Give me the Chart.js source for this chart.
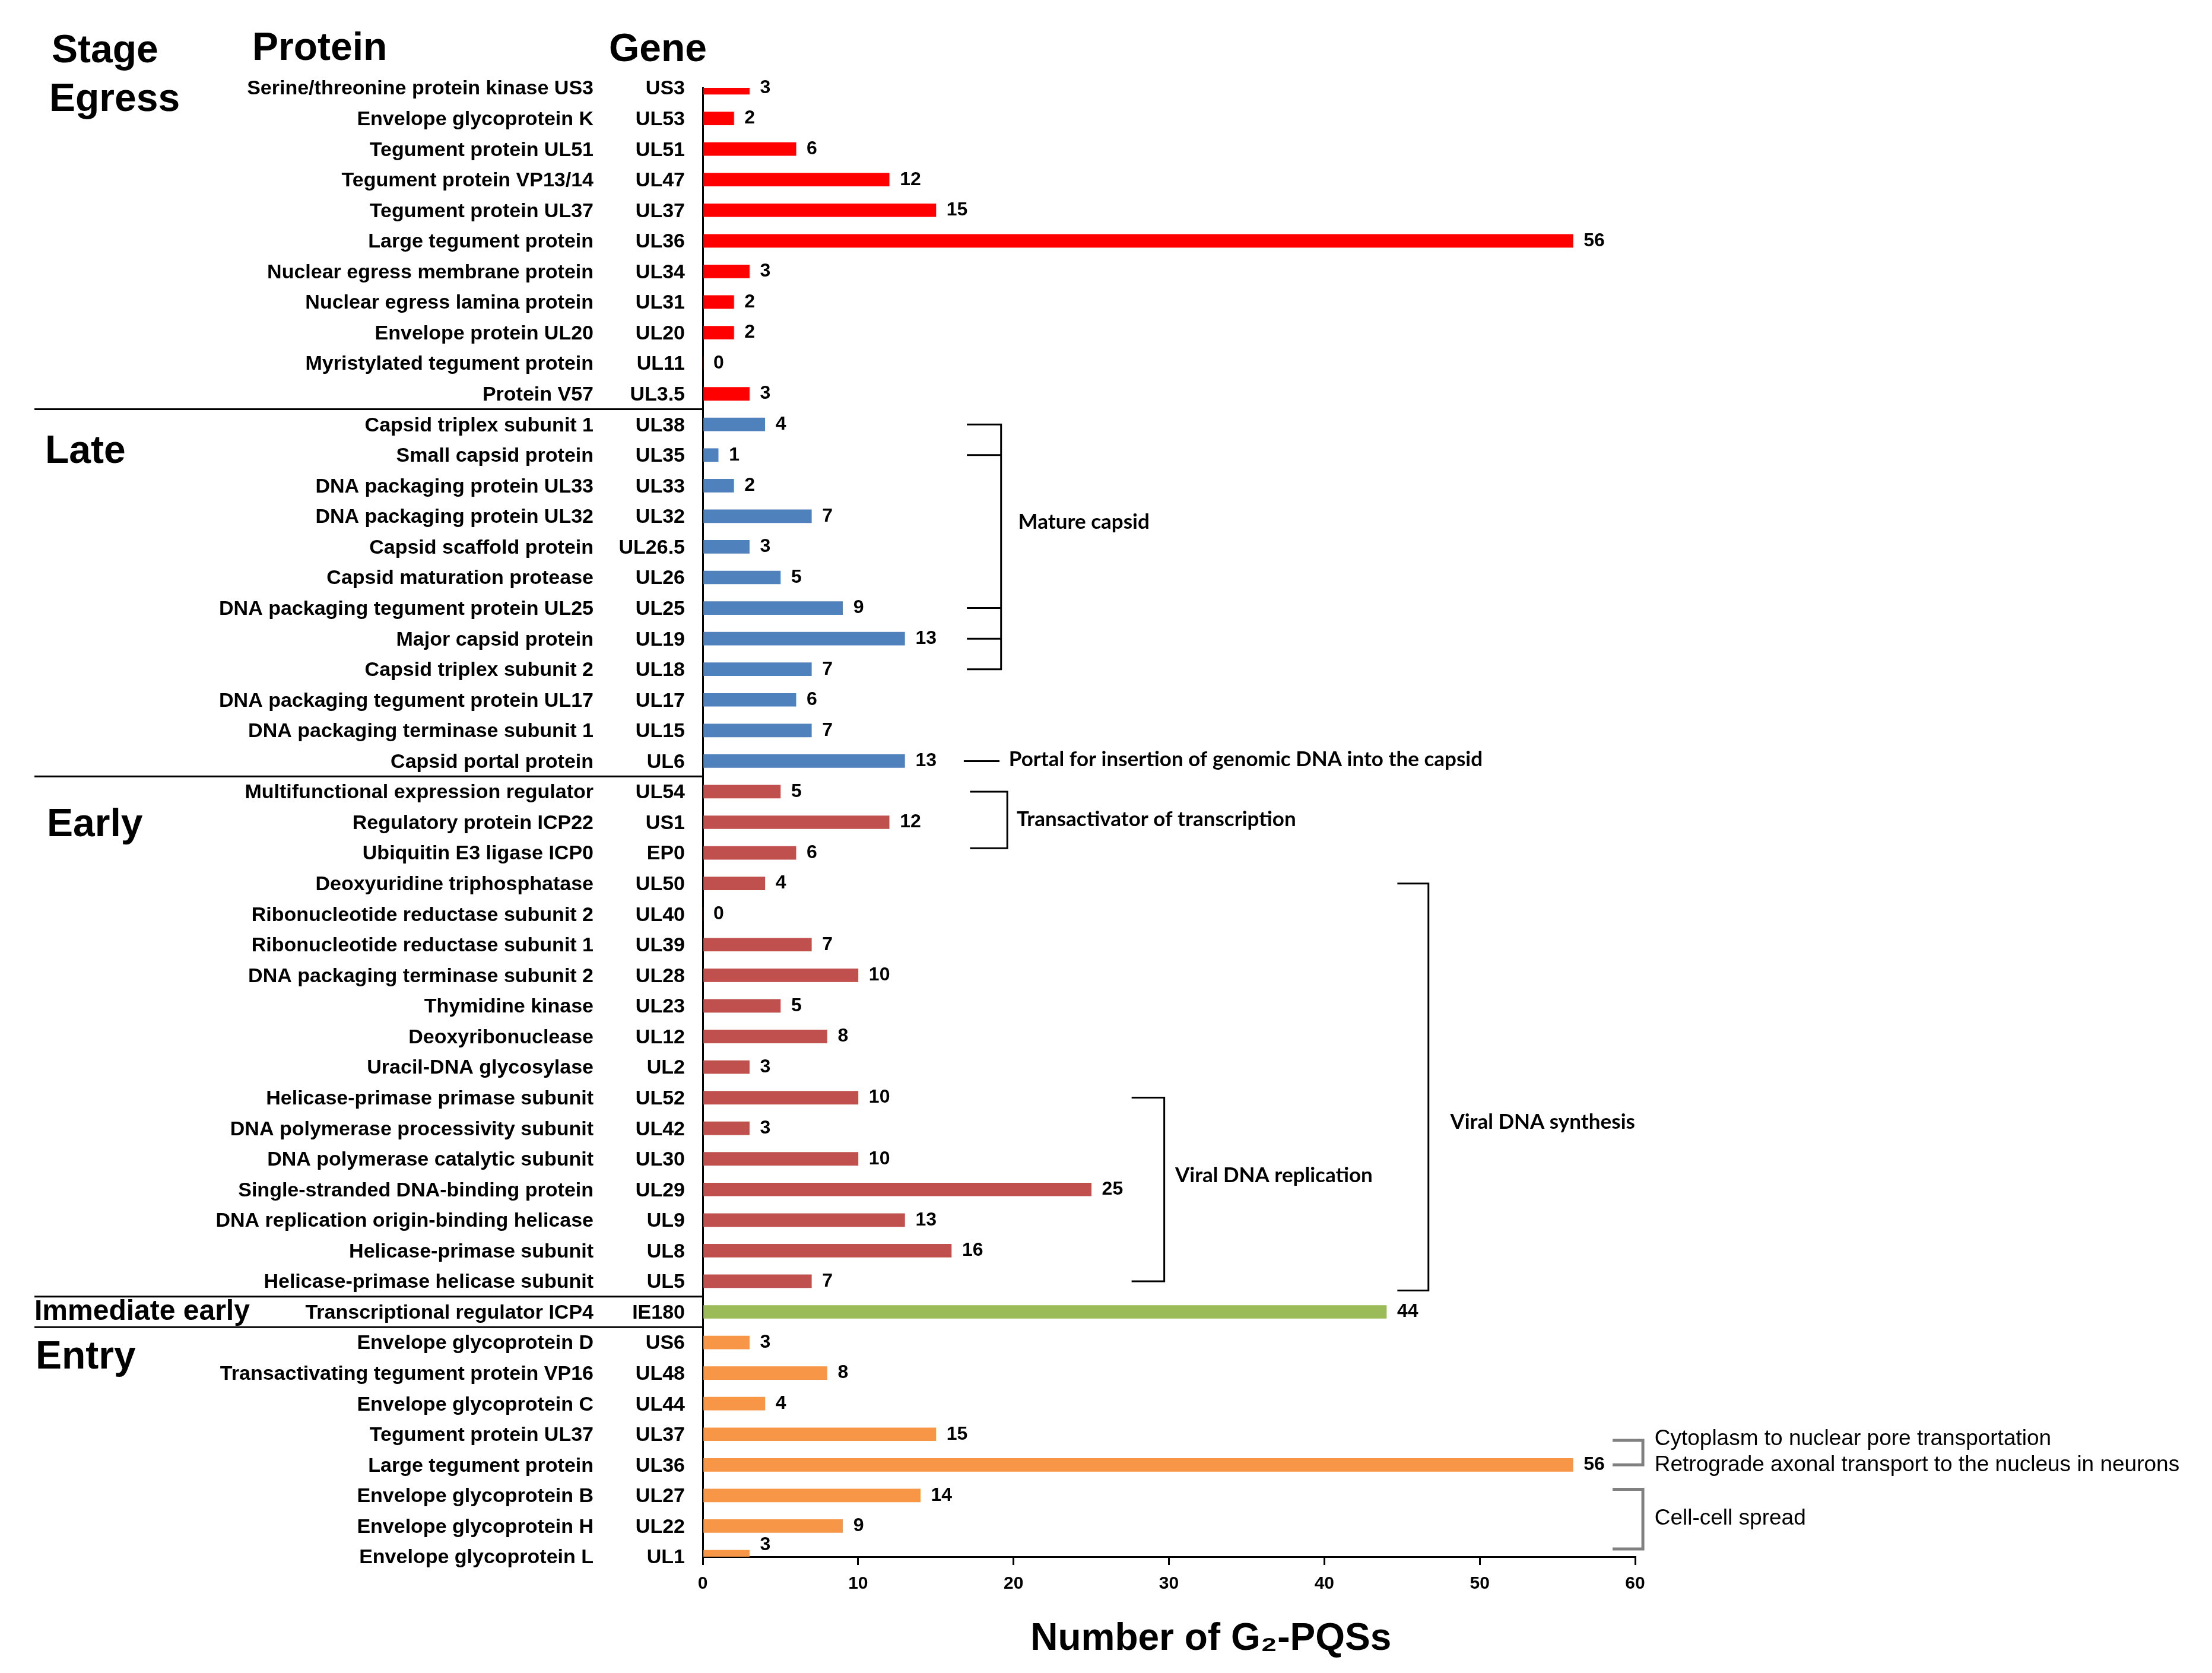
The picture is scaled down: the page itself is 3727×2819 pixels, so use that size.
<!DOCTYPE html>
<html>
<head>
<meta charset="utf-8">
<script src="https://cdn.jsdelivr.net/npm/chart.js@4.4.0/dist/chart.umd.min.js"></script>
<style>
  html, body { margin: 0; padding: 0; background: #fff; }
  canvas { display: block; }
</style>
</head>
<body>
<canvas id="myChart" width="3727" height="2819"></canvas>
<script>
// stages, top to bottom
var stageNames = ["Egress", "Late", "Early", "Immediate early", "Entry"];
var stageSizes = [11, 12, 17, 1, 8];
var stageColors = ["#FF0000", "#4F81BD", "#C0504D", "#9BBB59", "#F79646"];

var proteins = [
    "Serine/threonine protein kinase US3", "Envelope glycoprotein K", "Tegument protein UL51",
    "Tegument protein VP13/14", "Tegument protein UL37", "Large tegument protein",
    "Nuclear egress membrane protein", "Nuclear egress lamina protein", "Envelope protein UL20",
    "Myristylated tegument protein", "Protein V57",
    "Capsid triplex subunit 1", "Small capsid protein", "DNA packaging protein UL33",
    "DNA packaging protein UL32", "Capsid scaffold protein", "Capsid maturation protease",
    "DNA packaging tegument protein UL25", "Major capsid protein", "Capsid triplex subunit 2",
    "DNA packaging tegument protein UL17", "DNA packaging terminase subunit 1", "Capsid portal protein",
    "Multifunctional expression regulator", "Regulatory protein ICP22", "Ubiquitin E3 ligase ICP0",
    "Deoxyuridine triphosphatase", "Ribonucleotide reductase subunit 2", "Ribonucleotide reductase subunit 1",
    "DNA packaging terminase subunit 2", "Thymidine kinase", "Deoxyribonuclease",
    "Uracil-DNA glycosylase", "Helicase-primase primase subunit", "DNA polymerase processivity subunit",
    "DNA polymerase catalytic subunit", "Single-stranded DNA-binding protein",
    "DNA replication origin-binding helicase", "Helicase-primase subunit", "Helicase-primase helicase subunit",
    "Transcriptional regulator ICP4",
    "Envelope glycoprotein D", "Transactivating tegument protein VP16", "Envelope glycoprotein C",
    "Tegument protein UL37", "Large tegument protein", "Envelope glycoprotein B",
    "Envelope glycoprotein H", "Envelope glycoprotein L"
];
var genes = [
    "US3", "UL53", "UL51", "UL47", "UL37", "UL36", "UL34", "UL31", "UL20", "UL11", "UL3.5",
    "UL38", "UL35", "UL33", "UL32", "UL26.5", "UL26", "UL25", "UL19", "UL18", "UL17", "UL15", "UL6",
    "UL54", "US1", "EP0", "UL50", "UL40", "UL39", "UL28", "UL23", "UL12", "UL2", "UL52", "UL42",
    "UL30", "UL29", "UL9", "UL8", "UL5",
    "IE180",
    "US6", "UL48", "UL44", "UL37", "UL36", "UL27", "UL22", "UL1"
];
var counts = [
    3, 2, 6, 12, 15, 56, 3, 2, 2, 0, 3,
    4, 1, 2, 7, 3, 5, 9, 13, 7, 6, 7, 13,
    5, 12, 6, 4, 0, 7, 10, 5, 8, 3, 10, 3, 10, 25, 13, 16, 7,
    44,
    3, 8, 4, 15, 56, 14, 9, 3
];
var xTicks = [0, 10, 20, 30, 40, 50, 60];

// bar colours follow the stage each row belongs to
var barColors = [];
var stageStart = [];
stageSizes.forEach(function (n, s) {
    stageStart.push(barColors.length);
    for (var i = 0; i < n; i++) barColors.push(stageColors[s]);
});

// notes on the right, in axis units (x) and row numbers (y)
var notes = [
    { x1: 17.0, x2: 19.2, top: 11, bottom: 19, marks: [12, 17, 18], tx: 20.3, lines: [["Mature capsid", 14.2]], gray: false },
    { x1: 16.8, x2: 19.1, top: 22, bottom: 22, marks: [], tx: 19.7, lines: [["Portal for insertion of genomic DNA into the capsid", 21.95]], gray: false, flat: true },
    { x1: 17.2, x2: 19.6, top: 23.0, bottom: 24.85, marks: [], tx: 20.2, lines: [["Transactivator of transcription", 23.9]], gray: false },
    { x1: 27.6, x2: 29.7, top: 33, bottom: 39, marks: [], tx: 30.4, lines: [["Viral DNA replication", 35.55]], gray: false },
    { x1: 44.7, x2: 46.7, top: 26, bottom: 39.3, marks: [], tx: 48.1, lines: [["Viral DNA synthesis", 33.8]], gray: false },
    { x1: 58.55, x2: 60.5, top: 44.2, bottom: 45.0, marks: [], tx: 61.25, lines: [["Cytoplasm to nuclear pore transportation", 44.15], ["Retrograde axonal transport to the nucleus in neurons", 45.0]], gray: true },
    { x1: 58.55, x2: 60.5, top: 45.8, bottom: 47.75, marks: [], tx: 61.25, lines: [["Cell-cell spread", 46.75]], gray: true }
];

var boldArial = '"Liberation Sans", Arial, sans-serif';

var sidePlugin = {
    id: 'sideText',
    afterDatasetsDraw: function (chart) {
        var ctx = chart.ctx;
        var meta = chart.getDatasetMeta(0);
        ctx.save();
        ctx.fillStyle = '#000';
        ctx.font = 'bold 32px ' + boldArial;
        ctx.textAlign = 'left';
        ctx.textBaseline = 'middle';
        meta.data.forEach(function (bar, i) {
            var dy = (i === counts.length - 1) ? -20 : 0;
            ctx.fillText(String(counts[i]), bar.x + 18, bar.y + dy);
        });
        ctx.restore();
    },
    afterDraw: function (chart) {
        var ctx = chart.ctx;
        var xs = chart.scales.x, ys = chart.scales.y;
        ctx.save();
        ctx.fillStyle = '#000';
        ctx.textBaseline = 'middle';

        // column headers
        ctx.font = 'bold 66px ' + boldArial;
        ctx.textAlign = 'left';
        ctx.fillText('Stage', 87, 87);
        ctx.fillText('Protein', 425, 83);
        ctx.fillText('Gene', 1026, 85);

        // stage names
        var stageRows = [0.4, 11.9, 24.1, 40, 41.5];
        var stageLeft = [83, 76, 79, 58, 60];
        stageNames.forEach(function (name, s) {
            ctx.font = (s === 3 ? 'bold 48px ' : 'bold 66px ') + boldArial;
            ctx.fillText(name, stageLeft[s], ys.getPixelForValue(stageRows[s]));
        });

        // protein and gene columns
        ctx.font = 'bold 34px ' + boldArial;
        ctx.textAlign = 'right';
        proteins.forEach(function (p, i) {
            var y = ys.getPixelForValue(i) + 2;
            ctx.fillText(p, 1000, y);
            ctx.fillText(genes[i], 1154, y);
        });

        // lines between stages
        ctx.strokeStyle = '#000';
        ctx.lineWidth = 3;
        for (var s = 1; s < stageStart.length; s++) {
            var k = stageStart[s];
            var yy = (ys.getPixelForValue(k - 1) + ys.getPixelForValue(k)) / 2;
            ctx.beginPath();
            ctx.moveTo(58, yy);
            ctx.lineTo(xs.left, yy);
            ctx.stroke();
        }

        // brackets and notes
        notes.forEach(function (n) {
            var x1 = xs.getPixelForValue(n.x1), x2 = xs.getPixelForValue(n.x2);
            var yt = ys.getPixelForValue(n.top), yb = ys.getPixelForValue(n.bottom);
            ctx.strokeStyle = n.gray ? '#808080' : '#000';
            ctx.lineWidth = n.gray ? 5 : 3;
            ctx.beginPath();
            if (n.flat) {
                ctx.moveTo(x1, yt);
                ctx.lineTo(x2, yt);
            } else {
                ctx.moveTo(x1, yt);
                ctx.lineTo(x2, yt);
                ctx.lineTo(x2, yb);
                ctx.lineTo(x1, yb);
                n.marks.forEach(function (m) {
                    var ym = ys.getPixelForValue(m);
                    ctx.moveTo(x1, ym);
                    ctx.lineTo(x2, ym);
                });
            }
            ctx.stroke();
            ctx.textAlign = 'left';
            ctx.font = n.gray ? '37px ' + boldArial : 'bold 35px Lato, "Open Sans", sans-serif';
            n.lines.forEach(function (l) {
                ctx.fillText(l[0], xs.getPixelForValue(n.tx), ys.getPixelForValue(l[1]));
            });
        });

        // axis title, sits right of the axis centre as in the original
        ctx.textAlign = 'center';
        ctx.font = 'bold 64px ' + boldArial;
        ctx.fillText('Number of G\u2082-PQSs', xs.getPixelForValue(32.7), 2762);
        ctx.restore();
    }
};

new Chart("myChart", {
    type: "bar",
    data: {
        labels: proteins,
        datasets: [{
            data: counts,
            backgroundColor: barColors,
            barThickness: 22,
            borderWidth: 0
        }]
    },
    options: {
        indexAxis: 'y',
        responsive: false,
        animation: false,
        devicePixelRatio: 1,
        layout: { padding: { left: 1184, right: 972, top: 148, bottom: 118 } },
        plugins: {
            legend: { display: false },
            tooltip: { enabled: false }
        },
        scales: {
            x: {
                min: 0,
                max: 60,
                afterBuildTicks: function (scale) {
                    scale.ticks = xTicks.map(function (v) { return { value: v }; });
                },
                ticks: {
                    color: '#000',
                    padding: 14,
                    maxRotation: 0,
                    font: { family: boldArial, size: 30, weight: 'bold' }
                },
                grid: { drawOnChartArea: false, drawTicks: true, tickLength: 14, color: '#000', lineWidth: 3 },
                border: { color: '#000', width: 3 }
            },
            y: {
                offset: false,
                ticks: { display: false },
                grid: { display: false, drawTicks: false },
                border: { color: '#000', width: 3 }
            }
        }
    },
    plugins: [sidePlugin]
});
</script>
</body>
</html>
